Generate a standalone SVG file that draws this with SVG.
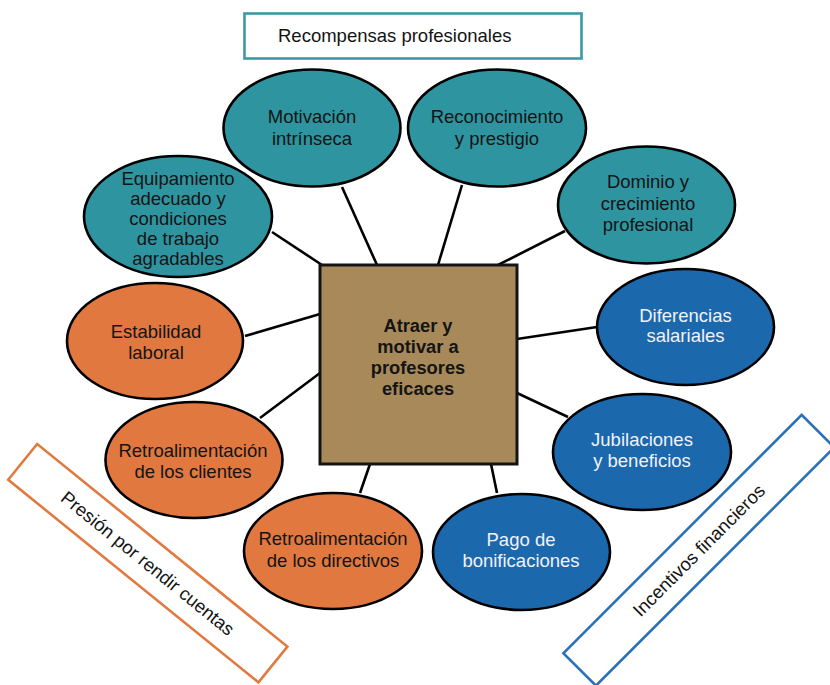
<svg xmlns="http://www.w3.org/2000/svg" width="830" height="685" viewBox="0 0 830 685">
<style>
.t{font-family:"Liberation Sans",Arial,Helvetica,sans-serif;font-size:18.5px;text-anchor:middle;fill:#141414}
.w{fill:#F2F2FA}
.b{font-weight:bold;font-size:18.3px}
.teal{fill:#2E94A0;stroke:#000;stroke-width:2.6}
.org{fill:#E07840;stroke:#000;stroke-width:2.6}
.blu{fill:#1B68AC;stroke:#000;stroke-width:2.6}
.con line{stroke:#000;stroke-width:2.6}
</style>
<rect width="830" height="685" fill="#fff"/>
<g id="connectors" class="con">
<line x1="272" y1="232" x2="322" y2="265"/>
<line x1="342" y1="187" x2="377" y2="265"/>
<line x1="462" y1="185" x2="438" y2="265"/>
<line x1="565" y1="231" x2="498" y2="265"/>
<line x1="245" y1="336" x2="320" y2="314"/>
<line x1="260" y1="418" x2="320" y2="373"/>
<line x1="597" y1="327" x2="517" y2="339"/>
<line x1="568" y1="417" x2="517" y2="393"/>
<line x1="360" y1="493" x2="370" y2="464"/>
<line x1="497" y1="493" x2="491" y2="464"/>
</g>
<g id="recompensas">
<rect x="244.5" y="13.5" width="337" height="45" fill="#fff" stroke="#3A9AA5" stroke-width="2.6"/>
<text class="t" x="278" y="42" style="text-anchor:start">Recompensas profesionales</text>
</g>
<g id="presion">
<g transform="translate(147.8,563.2) rotate(39)">
<rect x="-161" y="-23" width="322" height="46" fill="#fff" stroke="#E07A40" stroke-width="2.6"/>
<text class="t" x="0" y="6.5">Presión por rendir cuentas</text>
</g>
</g>
<g id="incentivos">
<g transform="translate(698.8,550.3) rotate(-45)">
<rect x="-168.5" y="-23" width="337" height="46" fill="#fff" stroke="#2D72B8" stroke-width="2.6"/>
<text class="t" x="0" y="6.5">Incentivos financieros</text>
</g>
</g>
<g id="centro">
<rect x="320" y="265" width="197" height="199" fill="#A88A5A" stroke="#141414" stroke-width="3"/>
<text class="t b" x="418"><tspan x="418" y="332">Atraer y</tspan><tspan x="418" y="353">motivar a</tspan><tspan x="418" y="374">profesores</tspan><tspan x="418" y="395">eficaces</tspan></text>
</g>
<g id="motivacion">
<ellipse class="teal" cx="312" cy="128" rx="88.5" ry="58.5"/>
<text class="t"><tspan x="312" y="123">Motivación</tspan><tspan x="312" y="145">intrínseca</tspan></text>
</g>
<g id="reconocimiento">
<ellipse class="teal" cx="497" cy="128" rx="89" ry="58.5"/>
<text class="t"><tspan x="497" y="123">Reconocimiento</tspan><tspan x="497" y="145">y prestigio</tspan></text>
</g>
<g id="equipamiento">
<ellipse class="teal" cx="178" cy="216.5" rx="94" ry="60.5"/>
<text class="t"><tspan x="178" y="185">Equipamiento</tspan><tspan x="178" y="205">adecuado y</tspan><tspan x="178" y="225">condiciones</tspan><tspan x="178" y="245">de trabajo</tspan><tspan x="178" y="265">agradables</tspan></text>
</g>
<g id="dominio">
<ellipse class="teal" cx="646.5" cy="205" rx="88.5" ry="58.5"/>
<text class="t"><tspan x="648" y="188">Dominio y</tspan><tspan x="648" y="209.5">crecimiento</tspan><tspan x="648" y="231">profesional</tspan></text>
</g>
<g id="estabilidad">
<ellipse class="org" cx="155" cy="341" rx="88" ry="58"/>
<text class="t"><tspan x="156" y="338">Estabilidad</tspan><tspan x="156" y="359">laboral</tspan></text>
</g>
<g id="diferencias">
<ellipse class="blu" cx="685.5" cy="327" rx="88.5" ry="58"/>
<text class="t w"><tspan x="685.5" y="322">Diferencias</tspan><tspan x="685.5" y="342">salariales</tspan></text>
</g>
<g id="retro-clientes">
<ellipse class="org" cx="194" cy="460" rx="88.5" ry="58"/>
<text class="t"><tspan x="193" y="457">Retroalimentación</tspan><tspan x="193" y="478">de los clientes</tspan></text>
</g>
<g id="jubilaciones">
<ellipse class="blu" cx="642" cy="452" rx="89" ry="58"/>
<text class="t w"><tspan x="642" y="446">Jubilaciones</tspan><tspan x="642" y="467">y beneficios</tspan></text>
</g>
<g id="retro-directivos">
<ellipse class="org" cx="333" cy="551" rx="89" ry="58"/>
<text class="t"><tspan x="333" y="545">Retroalimentación</tspan><tspan x="333" y="567">de los directivos</tspan></text>
</g>
<g id="pago">
<ellipse class="blu" cx="521.5" cy="552" rx="88.5" ry="58"/>
<text class="t w"><tspan x="521" y="546">Pago de</tspan><tspan x="521" y="567">bonificaciones</tspan></text>
</g>
</svg>
